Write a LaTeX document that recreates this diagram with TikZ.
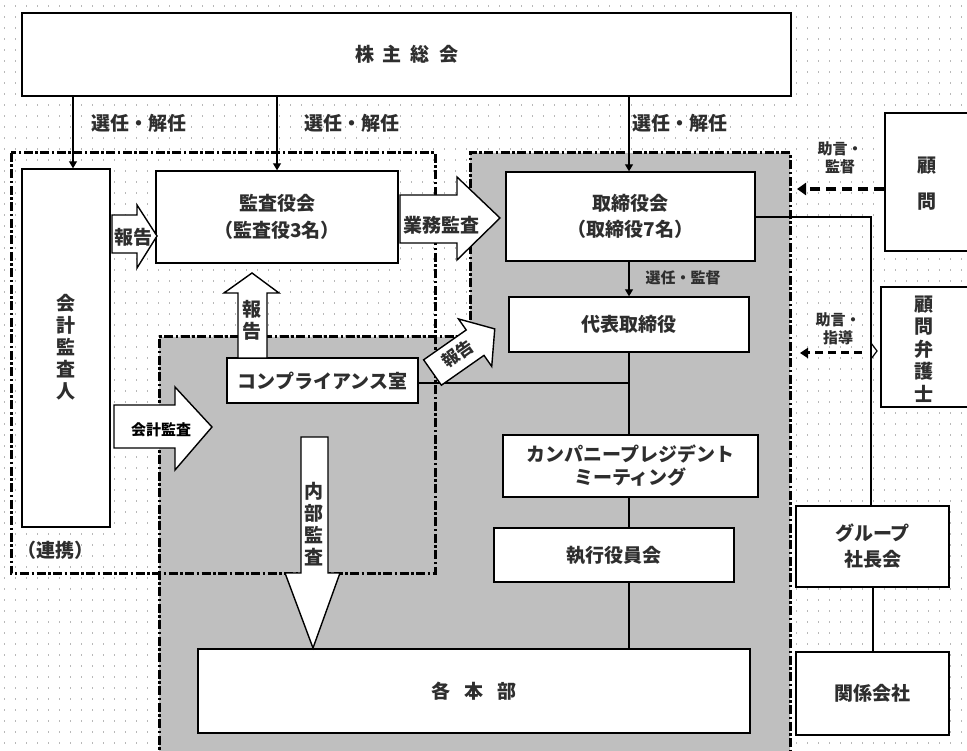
\documentclass[tikz,border=0pt]{standalone}
\usepackage{fontspec}
\setmainfont{Noto Sans CJK JP}
\usetikzlibrary{arrows.meta}
\begin{document}
\begin{tikzpicture}[x=1pt,y=-1pt,
  every node/.style={text=black!82, font=\bfseries\fontsize{19}{22}\selectfont, inner sep=0pt},
  box/.style={draw=black, line width=1.4pt, fill=white},
  region/.style={draw=black, line width=3pt, dash pattern=on 9pt off 2.5pt on 2.5pt off 2.5pt},
  link/.style={draw=black, line width=1.2pt},
  tipd/.style={-{Triangle[length=7pt,width=8pt]}},
  barrow/.style={draw=black, line width=1.4pt, fill=white, line join=miter},
  advice/.style={draw=black, line width=3.5pt, dash pattern=on 10pt off 6pt, -{Triangle[length=9pt,width=12pt]}},
  advicetwo/.style={draw=black, line width=3pt, dash pattern=on 8pt off 5pt, -{Triangle[length=8pt,width=10pt]}},
  small/.style={font=\bfseries\fontsize{15}{18}\selectfont},
  vert/.style={align=center, font=\bfseries\fontsize{19}{22}\selectfont},
]
\clip (0,0) rectangle (967,751);
\fill[white] (0,0) rectangle (967,751);
\foreach \yy in {6,17,...,750} \draw[black!28, line width=1.2pt, dash pattern=on 1.2pt off 9.8pt] (4,\yy) -- (967,\yy);

% gray region
\fill[black!25] (159,337) -- (470,337) -- (470,153) -- (790,153) -- (790,760) -- (159,760) -- cycle;
\draw[region] (11,153) rectangle (435,573);
\draw[region] (470,337) -- (470,153) -- (790,153) -- (790,760);
\draw[region] (470,337) -- (159,337) -- (159,760);

% boxes
\node[box, minimum width=769pt, minimum height=83pt] (kabu) at (406.5,54.5) {株\hspace{9pt}主\hspace{9pt}総\hspace{9pt}会};
\node[box, minimum width=88pt, minimum height=358pt] (kaikei) at (66,348) {};
\node[vert] at (66,347) {会\\計\\監\\査\\人};
\node[box, minimum width=242pt, minimum height=92pt, align=center] (kansa) at (277,217) {監査役会\\[5pt]（監査役3名）};
\node[box, minimum width=249pt, minimum height=89pt, align=center] (tori) at (630.5,216.5) {取締役会\\[4pt]（取締役7名）};
\node[box, minimum width=240pt, minimum height=55pt] (daihyo) at (629,324.5) {代表取締役};
\node[box, minimum width=191pt, minimum height=45pt] (comp) at (322.5,380.5) {コンプライアンス室};
\node[box, minimum width=255pt, minimum height=62pt, align=center] (company) at (630.5,466) {カンパニープレジデント\\[1pt]ミーティング};
\node[box, minimum width=240pt, minimum height=54pt] (shikko) at (614,555) {執行役員会};
\node[box, minimum width=552pt, minimum height=84pt] (honbu) at (474,691) {各\hspace{14pt}本\hspace{14pt}部};
\node[box, minimum width=92pt, minimum height=138pt] (komon) at (931,182) {};
\node[vert] at (927,184) {顧\\[14pt]問};
\node[box, minimum width=96pt, minimum height=120pt] (bengoshi) at (929,347) {};
\node[vert, font=\bfseries\fontsize{19}{22.5}\selectfont] at (924,349) {顧\\問\\弁\\護\\士};
\node[box, minimum width=153pt, minimum height=81pt, align=center] (group) at (872.5,546.5) {グループ\\[4pt]社長会};
\node[box, minimum width=153pt, minimum height=83pt] (kankei) at (872.5,693.5) {関係会社};

% connectors
\coordinate (xa) at (73,0);
\coordinate (xb) at (277,0);
\coordinate (xv) at (629,0);
\coordinate (xr) at (871,0);
\draw[link,tipd] (kabu.south -| xa) -- (kaikei.north -| xa);
\draw[link,tipd] (kabu.south -| xb) -- (kansa.north -| xb);
\draw[link,tipd] (kabu.south -| xv) -- (tori.north -| xv);
\draw[link,tipd] (tori.south -| xv) -- (daihyo.north -| xv);
\draw[link] (daihyo.south -| xv) -- (company.north -| xv);
\draw[link] (company.south -| xv) -- (shikko.north -| xv);
\draw[link] (shikko.south -| xv) -- (honbu.north -| xv);
\coordinate (cj) at (629,383);
\draw[link] (comp.east |- cj) -- (cj);
\coordinate (tj) at (871,217);
\draw[link] (tori.east |- tj) -- (tj) -- (group.north -| xr);
\draw[link] (871,343) -- (877,351) -- (871,359);
\coordinate (xg) at (873,0);
\draw[link] (group.south -| xg) -- (kankei.north -| xg);

% dashed advice arrows
\coordinate (d1) at (797,189);
\draw[advice] (komon.west |- d1) -- (d1);
\coordinate (d2s) at (862,353);
\coordinate (d2) at (800,353);
\draw[advicetwo] (d2s) -- (d2);

% labels
\node (l1) at (139,123) {選任・解任};
\node (l2) at (352,123) {選任・解任};
\node (l3) at (680,123) {選任・解任};
\node[small] (l4) at (683,278) {選任・監督};
\node[small, align=center] (l5) at (840,158) {助言・\\監督};
\node[small, align=center] (l6) at (838,329) {助言・\\指導};
\node (l7) at (55,550) {（連携）};

% block arrows
\draw[barrow] (112,215) -- (137,215) -- (137,205) -- (157,236) -- (137,268) -- (137,253) -- (112,253) -- cycle;
\node at (133,237) {報告};
\draw[barrow] (400,195) -- (457,195) -- (457,177) -- (500,218) -- (457,260) -- (457,243) -- (400,243) -- cycle;
\node at (441,225) {業務監査};
\draw[barrow] (114,405) -- (175,405) -- (175,387) -- (212,427) -- (175,470) -- (175,448) -- (114,448) -- cycle;
\node[text=black, font=\bfseries\fontsize{15}{17}\selectfont] at (161,430) {会計監査};
\draw[barrow] (238,358) -- (238,293) -- (224,293) -- (252,273) -- (279,293) -- (267,293) -- (267,358) -- cycle;
\node[vert] at (252,320) {報\\告};
\draw[barrow] (301,437) -- (328,437) -- (328,573) -- (340,573) -- (313,648) -- (285,573) -- (301,573) -- cycle;
\node[vert] at (314,524) {内\\部\\監\\査};
\begin{scope}[shift={(432.5,372.5)}, rotate=35]
  \draw[barrow] (0,-15.5) -- (52,-15.5) -- (52,-29) -- (76,0) -- (52,29) -- (52,15.5) -- (0,15.5) -- cycle;
  \node[rotate=35, font=\bfseries\fontsize{17}{20}\selectfont] at (31,-1) {報告};
\end{scope}
\end{tikzpicture}
\end{document}
